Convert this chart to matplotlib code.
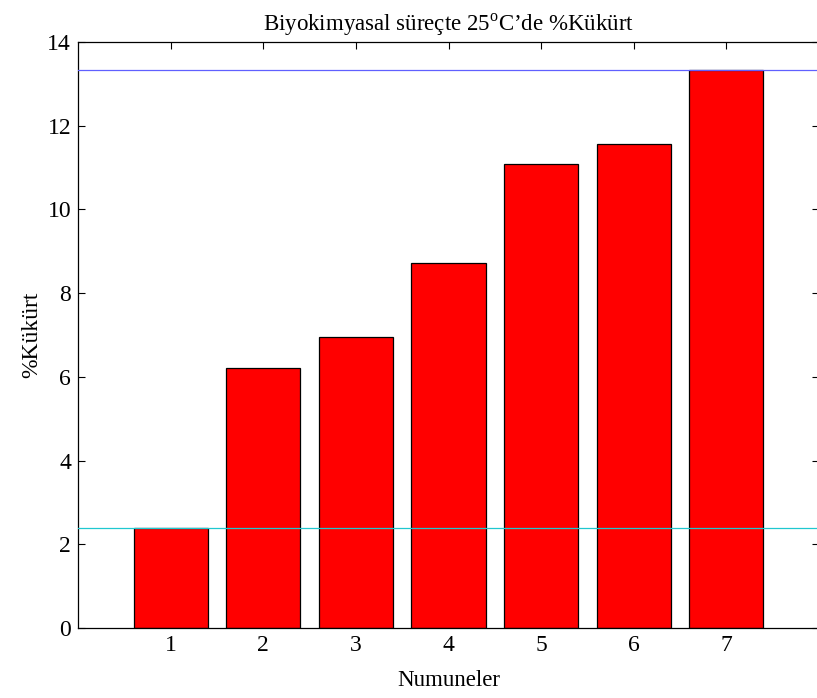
import matplotlib
matplotlib.use("Agg")
import matplotlib.pyplot as plt

samples = [1, 2, 3, 4, 5, 6, 7]
sulfur = [2.40, 6.22, 6.95, 8.71, 11.08, 11.57, 13.33]
max_line = 13.33
min_line = 2.40

plt.rcParams["font.family"] = ["Liberation Serif", "DejaVu Serif"]
plt.rcParams["mathtext.fontset"] = "custom"
plt.rcParams["mathtext.rm"] = "Liberation Serif"

fig = plt.figure(figsize=(8.17, 6.98), dpi=100)
ax = fig.add_axes([0.0955, 0.1003, 0.9070, 0.8395])

ax.bar(samples, sulfur, width=0.8, color="#ff0000", edgecolor="black", linewidth=0.9, zorder=2)
ax.axhline(max_line, color="#6060ff", linewidth=0.9, zorder=3)
ax.axhline(min_line, color="#20c8d0", linewidth=0.9, zorder=3)

ax.set_xlim(0, 8)
ax.set_ylim(0, 14)
ax.set_xticks(samples)
ax.set_yticks(range(0, 15, 2))
ax.tick_params(direction="in", top=True, right=True, labelsize=17, length=5, width=0.8, pad=5)

ax.set_title("Biyokimyasal süreçte 25$^{\\mathrm{o}}$C’de %Kükürt", fontsize=16.5, pad=8)
ax.set_xlabel("Numuneler", fontsize=16.5, labelpad=10)
ax.set_ylabel("%Kükürt", fontsize=17, labelpad=4)

for s in ax.spines.values():
    s.set_linewidth(0.9)

fig.savefig("out.png", dpi=100)
